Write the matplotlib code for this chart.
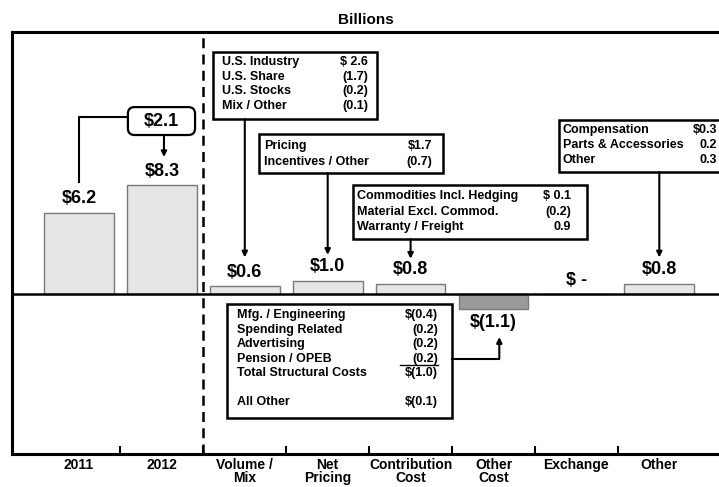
import matplotlib
matplotlib.use("Agg")
import matplotlib.pyplot as plt
from matplotlib.patches import Rectangle, FancyBboxPatch

# ---------------- data ----------------
categories = ["2011", "2012", "Volume /\nMix", "Net\nPricing", "Contribution\nCost",
              "Other\nCost", "Exchange", "Other"]
values = [6.2, 8.3, 0.6, 1.0, 0.8, -1.1, 0.0, 0.8]
value_labels = ["$6.2", "$8.3", "$0.6", "$1.0", "$0.8", "$(1.1)", "$ -", "$0.8"]
bar_colors = ["#e6e6e6", "#e6e6e6", "#e6e6e6", "#e6e6e6", "#e6e6e6", "#9a9a9a", "#e6e6e6", "#e6e6e6"]

change_label = "$2.1"

volume_items = ["U.S. Industry", "U.S. Share", "U.S. Stocks", "Mix / Other"]
volume_values = ["$ 2.6", "(1.7)", "(0.2)", "(0.1)"]
pricing_items = ["Pricing", "Incentives / Other"]
pricing_values = ["$1.7", "(0.7)"]
contrib_items = ["Commodities Incl. Hedging", "Material Excl. Commod.", "Warranty / Freight"]
contrib_values = ["$ 0.1", "(0.2)", "0.9"]
other_items = ["Compensation", "Parts & Accessories", "Other"]
other_values = ["$0.3", "0.2", "0.3"]
struct_items = ["Mfg. / Engineering", "Spending Related", "Advertising", "Pension / OPEB",
                "Total Structural Costs", "", "All Other"]
struct_values = ["$(0.4)", "(0.2)", "(0.2)", "(0.2)", "$(1.0)", "", "$(0.1)"]

# ---------------- figure ----------------
plt.rcParams['font.family'] = ['Liberation Sans', 'DejaVu Sans']
plt.rcParams['font.weight'] = 'bold'

fig = plt.figure(figsize=(7.19, 4.87), dpi=100)
ax = fig.add_axes([12 / 719, 1 - 454 / 487, 1 - 12 / 719, (454 - 32) / 487])
ax.set_xlim(-0.808, 7.72)
ax.set_ylim(-12.2, 20.0)

x = list(range(len(categories)))
ax.bar(x, values, width=0.84, color=bar_colors, edgecolor="#7a7a7a", linewidth=1.0, zorder=2)
ax.axhline(0, color="black", lw=1.8, zorder=3)

for xi, v, lab in zip(x, values, value_labels):
    if v < 0:
        ax.annotate(lab, (xi, v), xytext=(0, -4), textcoords="offset points",
                    ha="center", va="top", fontsize=13, fontweight="bold")
    else:
        ax.annotate(lab, (xi, v), xytext=(0, 4), textcoords="offset points",
                    ha="center", va="bottom", fontsize=13, fontweight="bold")

# dashed divider
ax.axvline(1.5, color="black", lw=1.8, ls=(0, (4, 2.5)), zorder=3)

# spines / ticks
for s in ["left", "bottom", "top"]:
    ax.spines[s].set_linewidth(2.2)
ax.spines["right"].set_visible(False)
ax.set_yticks([])
ax.set_xticks([i + 0.5 for i in range(7)])
ax.set_xticklabels([])
ax.tick_params(axis="x", which="major", direction="in", length=6, width=1.5)
ax.set_xticks(x, minor=True)
ax.set_xticklabels(categories, minor=True, fontsize=10, fontweight="bold", linespacing=0.92)
ax.tick_params(axis="x", which="minor", length=0, pad=3)

ax.set_title("Billions", fontsize=11, fontweight="bold", pad=6)

# ---------------- helpers ----------------
def draw_box(x0, x1, ytop, ybot, items, vals, xl, xr, yfirst, step):
    ax.add_patch(Rectangle((x0, ybot), x1 - x0, ytop - ybot, fc="white", ec="black",
                           lw=1.8, zorder=4, clip_on=False))
    for i, (it, vv) in enumerate(zip(items, vals)):
        yy = yfirst - i * step
        ax.text(xl, yy, it, ha="left", va="center", fontsize=9, fontweight="bold", zorder=5)
        ax.text(xr, yy, vv, ha="right", va="center", fontsize=9, fontweight="bold", zorder=5)

def arrow(xa, y0, y1):
    ax.annotate("", xy=(xa, y1), xytext=(xa, y0),
                arrowprops=dict(arrowstyle="-|>", lw=1.5, color="black",
                                mutation_scale=8, shrinkA=0, shrinkB=0), zorder=4)

# Volume / Mix
draw_box(1.616, 3.595, 18.47, 13.36, volume_items, volume_values, 1.725, 3.486, 17.73, 1.13)
arrow(2.0, 13.36, 2.8)
# Net Pricing
draw_box(2.171, 4.391, 12.21, 9.24, pricing_items, pricing_values, 2.232, 4.258, 11.30, 1.22)
arrow(3.0, 9.24, 3.0)
# Contribution Cost
draw_box(3.305, 6.128, 8.32, 4.20, contrib_items, contrib_values, 3.353, 5.935, 7.48, 1.18)
arrow(4.0, 4.20, 2.7)
# Other
draw_box(5.79, 8.2, 13.28, 9.31, other_items, other_values, 5.838, 7.70, 12.52, 1.14)
arrow(7.0, 9.31, 2.8)
# Other Cost (structural)
draw_box(1.785, 4.5, -0.76, -9.47, struct_items, struct_values, 1.906, 4.33, -1.60, 1.107)
ax.plot([3.87, 4.33], [-5.42, -5.42], color="black", lw=1.0, zorder=5)
ax.plot([4.5, 5.07], [-4.92, -4.92], color="black", lw=1.5, zorder=4)
arrow(5.07, -4.92, -3.28)

# year-over-year change box
ax.add_patch(FancyBboxPatch((0.59, 12.14), 0.81, 2.13,
                            boxstyle="round,pad=0,rounding_size=0.08",
                            mutation_aspect=6.33, fc="white", ec="black", lw=1.6, zorder=4))
ax.text(0.995, 13.2, change_label, ha="center", va="center", fontsize=13,
        fontweight="bold", zorder=5)
ax.plot([0.59, 0.0, 0.0], [13.5, 13.5, 8.55], color="black", lw=1.5, zorder=3)
arrow(1.025, 12.14, 10.46)

fig.savefig("out.png", dpi=100)
